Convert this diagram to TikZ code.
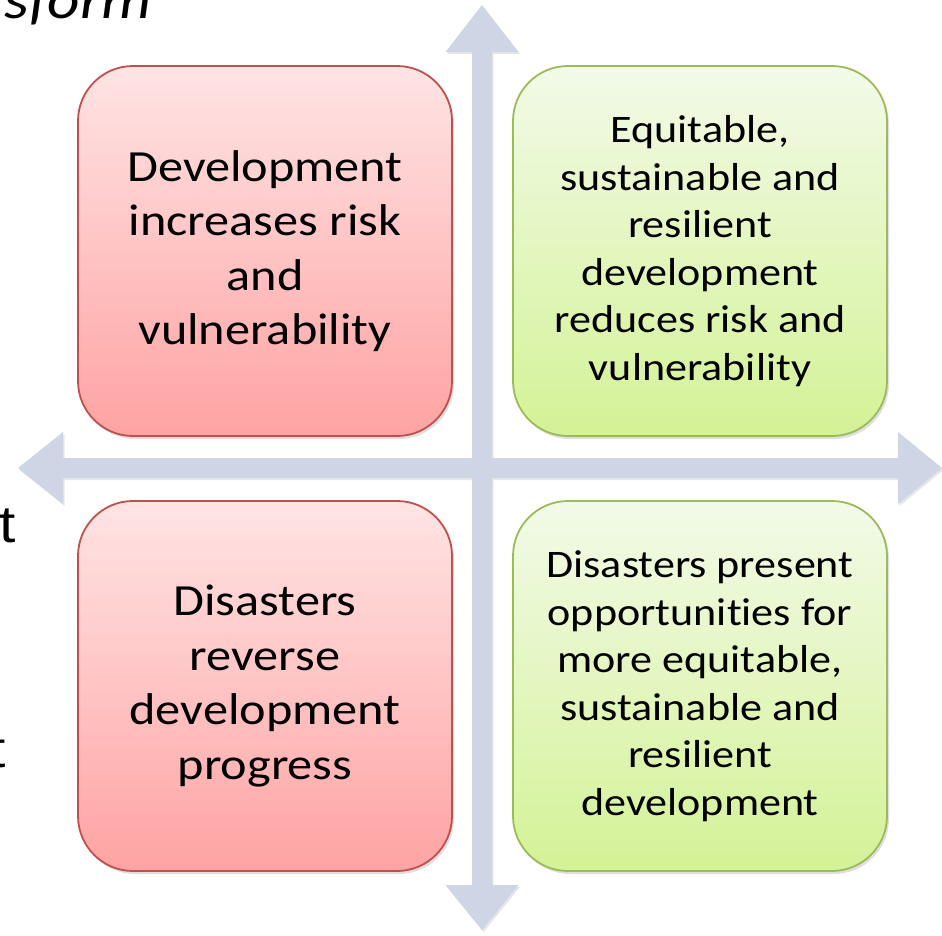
\documentclass[tikz,border=0pt]{standalone}
\usepackage{fontspec}
\setmainfont{Carlito}[FakeStretch=1.13, Ligatures=NoCommon]
\newfontfamily\arialfont{Liberation Sans}[FakeStretch=1.13]
\usetikzlibrary{shadows}

\definecolor{axisblue}{RGB}{206,214,229}
\definecolor{riskedge}{RGB}{192,80,77}
\definecolor{risktop}{RGB}{255,228,228}
\definecolor{riskbottom}{RGB}{255,163,163}
\definecolor{goodedge}{RGB}{155,187,89}
\definecolor{goodtop}{RGB}{242,250,232}
\definecolor{goodbottom}{RGB}{212,242,150}

\begin{document}
\begin{tikzpicture}[x=1pt, y=-1pt,
    quadbox/.style={rectangle, rounded corners=55pt, line width=1.8pt,
        minimum width=374pt, minimum height=370pt, align=center, inner sep=0pt,
        drop shadow={shadow xshift=2pt, shadow yshift=-3pt, opacity=0.25}},
    riskbox/.style={quadbox, draw=riskedge, top color=risktop, bottom color=riskbottom},
    goodbox/.style={quadbox, draw=goodedge, top color=goodtop, bottom color=goodbottom},
    bigtext/.style={font=\fontsize{44.5}{54.5}\selectfont},
    smalltext/.style={font=\fontsize{39}{47.5}\selectfont}]
    \useasboundingbox (0,0) rectangle (942,935);

    % Cut-off text on the left
    \node[anchor=base east, inner sep=0pt, font=\fontsize{56}{60}\selectfont\itshape] (title) at (152,18) {sform};
    \node[anchor=base west, inner sep=0pt, font=\arialfont\fontsize{52}{60}\selectfont] (leftA) at (-1,542) {t};
    \node[anchor=base east, inner sep=0pt, font=\arialfont\fontsize{52}{60}\selectfont] (leftB) at (6,767) {t};

    % Axes
    \fill[axisblue, drop shadow={shadow xshift=1.5pt, shadow yshift=-2pt, opacity=0.2}]
        (482,5) -- (518.5,52) -- (492,52) -- (492,458) -- (898,458) -- (898,432)
        -- (942,468) -- (898,504) -- (898,478) -- (492,478) -- (492,885)
        -- (518.5,885) -- (482,930) -- (445.5,885) -- (472,885) -- (472,478)
        -- (63,478) -- (63,504) -- (18,468) -- (63,432) -- (63,458)
        -- (472,458) -- (472,52) -- (445.5,52) -- cycle;

    % Quadrants
    \node[riskbox, bigtext] (devrisk) at (265,251)
        {Development\\increases risk\\and\\vulnerability};
    \node[goodbox, smalltext] (devgood) at (700,251)
        {Equitable,\\sustainable and\\resilient\\development\\reduces risk and\\vulnerability};
    \node[riskbox, bigtext] (disrisk) at (265,686)
        {Disasters\\reverse\\development\\progress};
    \node[goodbox, smalltext] (disgood) at (700,686)
        {Disasters present\\opportunities for\\more equitable,\\sustainable and\\resilient\\development};
\end{tikzpicture}
\end{document}
